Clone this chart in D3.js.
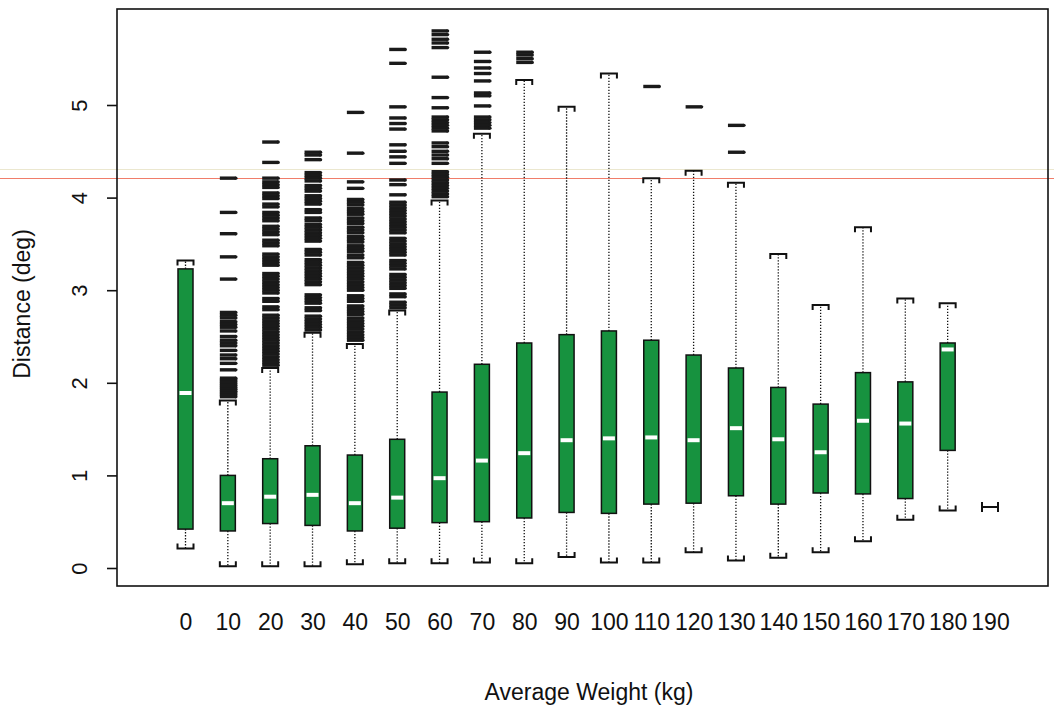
<!DOCTYPE html>
<html>
<head>
<meta charset="utf-8">
<script src="https://cdn.jsdelivr.net/npm/d3@7"></script>
<style>
  html, body { margin: 0; padding: 0; background: #fff; }
  svg { display: block; font-family: "Liberation Sans", Arial, Helvetica, sans-serif; }
  .tick text { fill: #111; }
</style>
</head>
<body>
<div id="chart"></div>
<script>
(function() {

  // -----------------------------
  // 1. DATA
  // -----------------------------
  const categories = ["0", "10", "20", "30", "40", "50", "60", "70", "80", "90",
                      "100", "110", "120", "130", "140", "150", "160", "170", "180", "190"];

  const lowerWhisker = [0.21, 0.02, 0.02, 0.02, 0.04, 0.05, 0.05, 0.06, 0.05, 0.12,
                        0.06, 0.06, 0.17, 0.08, 0.11, 0.17, 0.29, 0.52, 0.62, 0.66];
  const q1           = [0.42, 0.40, 0.48, 0.46, 0.40, 0.43, 0.49, 0.50, 0.54, 0.60,
                        0.59, 0.69, 0.70, 0.78, 0.69, 0.81, 0.80, 0.75, 1.27, 0.66];
  const median       = [1.89, 0.70, 0.77, 0.79, 0.70, 0.76, 0.97, 1.16, 1.24, 1.38,
                        1.40, 1.41, 1.38, 1.51, 1.39, 1.25, 1.59, 1.56, 2.36, 0.66];
  const q3           = [3.23, 1.00, 1.18, 1.32, 1.22, 1.39, 1.90, 2.20, 2.43, 2.52,
                        2.56, 2.46, 2.30, 2.16, 1.95, 1.77, 2.11, 2.01, 2.43, 0.66];
  const upperWhisker = [3.32, 1.81, 2.16, 2.54, 2.42, 2.78, 3.97, 4.69, 5.27, 4.98,
                        5.34, 4.21, 4.29, 4.16, 3.39, 2.84, 3.68, 2.91, 2.86, 0.66];

  const out10 = [4.21, 3.84, 3.61, 3.36, 3.12, 2.76, 2.73, 2.70, 2.66, 2.63, 2.60, 2.56,
                 2.50, 2.46, 2.43, 2.40, 2.35, 2.30, 2.26, 2.21, 2.14, 2.05, 2.03, 2.01,
                 1.99, 1.97, 1.95, 1.93, 1.91, 1.89, 1.87, 1.85];
  const out20 = [4.60, 4.38, 4.21, 4.17, 4.14, 4.11, 4.05, 4.02, 3.99, 3.93, 3.90, 3.84,
                 3.81, 3.78, 3.75, 3.69, 3.66, 3.63, 3.60, 3.54, 3.51, 3.48, 3.39, 3.36,
                 3.33, 3.30, 3.27, 3.18, 3.15, 3.12, 3.09, 3.06, 3.03, 3.00, 2.97, 2.91,
                 2.88, 2.82, 2.79, 2.73, 2.70, 2.67, 2.64, 2.61, 2.58, 2.55, 2.52, 2.49,
                 2.46, 2.43, 2.40, 2.37, 2.34, 2.31, 2.28, 2.25, 2.22, 2.19];
  const out30 = [4.49, 4.46, 4.41, 4.27, 4.24, 4.21, 4.18, 4.13, 4.10, 4.07, 4.02, 3.99,
                 3.96, 3.93, 3.87, 3.84, 3.78, 3.75, 3.71, 3.68, 3.65, 3.62, 3.59, 3.56,
                 3.53, 3.44, 3.41, 3.38, 3.33, 3.30, 3.27, 3.24, 3.21, 3.18, 3.15, 3.12,
                 3.09, 3.06, 2.95, 2.92, 2.89, 2.86, 2.81, 2.78, 2.72, 2.69, 2.66, 2.63,
                 2.60, 2.57];
  const out40 = [4.92, 4.48, 4.17, 4.10, 3.98, 3.95, 3.92, 3.88, 3.85, 3.82, 3.78, 3.75,
                 3.72, 3.68, 3.65, 3.62, 3.58, 3.55, 3.52, 3.48, 3.45, 3.42, 3.38, 3.35,
                 3.30, 3.27, 3.24, 3.21, 3.18, 3.15, 3.12, 3.09, 3.06, 3.03, 3.00, 2.94,
                 2.91, 2.88, 2.83, 2.80, 2.77, 2.74, 2.70, 2.67, 2.64, 2.61, 2.58, 2.55,
                 2.52, 2.49, 2.46];
  const out50 = [5.60, 5.45, 4.98, 4.86, 4.80, 4.74, 4.57, 4.50, 4.44, 4.37, 4.19, 4.14,
                 4.03, 3.95, 3.92, 3.89, 3.86, 3.83, 3.80, 3.77, 3.74, 3.71, 3.68, 3.65,
                 3.62, 3.56, 3.53, 3.50, 3.47, 3.44, 3.41, 3.38, 3.32, 3.29, 3.26, 3.23,
                 3.17, 3.14, 3.11, 3.08, 3.05, 3.02, 2.96, 2.93, 2.87, 2.84, 2.81];
  const out60 = [5.80, 5.76, 5.71, 5.67, 5.62, 5.30, 5.08, 4.97, 4.87, 4.84, 4.81, 4.78,
                 4.75, 4.72, 4.59, 4.55, 4.50, 4.46, 4.42, 4.37, 4.28, 4.25, 4.22, 4.19,
                 4.16, 4.13, 4.10, 4.07, 4.04, 4.01];
  const out70 = [5.57, 5.47, 5.40, 5.34, 5.26, 5.13, 5.10, 4.99, 4.87, 4.84, 4.81, 4.78, 4.75];
  const out80 = [5.57, 5.54, 5.50, 5.46];
  const out110 = [5.20];
  const out120 = [4.98];
  const out130 = [4.78, 4.49];

  const yTicks = [0, 1, 2, 3, 4, 5];

  const outliers = {"10": out10, "20": out20, "30": out30, "40": out40, "50": out50,
                    "60": out60, "70": out70, "80": out80, "110": out110, "120": out120,
                    "130": out130};

  const stats = categories.map((c, i) => ({
    cat: c, lo: lowerWhisker[i], q1: q1[i], med: median[i], q3: q3[i], hi: upperWhisker[i],
    out: outliers[c] || []
  }));

  // -----------------------------
  // 2. SVG SETUP
  // -----------------------------
  const width = 1054, height = 713;
  const frame = {left: 117, right: 1048, top: 9, bottom: 586};
  const green = "#17923f";
  const boxW = 15, stapleW = 16, dashW = 16;

  const svg = d3.select("#chart").append("svg")
      .attr("width", width)
      .attr("height", height);

  // -----------------------------
  // 3. SCALES
  // -----------------------------
  const x = d3.scalePoint().domain(categories).range([185.5, 990]);
  const y = d3.scaleLinear().domain([0, 5]).range([568, 105]);

  // scan artefacts across the page
  svg.append("line").attr("x1", 0).attr("x2", width).attr("y1", 169.5).attr("y2", 169.5)
      .attr("stroke", "#ebe7cf").attr("stroke-width", 1);
  svg.append("line").attr("x1", 0).attr("x2", width).attr("y1", 178.5).attr("y2", 178.5)
      .attr("stroke", "#f07d6a").attr("stroke-width", 1.2);

  // -----------------------------
  // 4. AXES
  // -----------------------------
  const yAxis = svg.append("g")
      .attr("transform", `translate(${frame.left},0)`)
      .call(d3.axisLeft(y).tickValues(yTicks).tickSize(10).tickFormat(d3.format("d")));
  yAxis.select(".domain").remove();
  yAxis.selectAll(".tick line").attr("stroke", "#111").attr("stroke-width", 1.6);
  yAxis.selectAll(".tick text")
      .attr("x", 0).attr("y", -30).attr("dy", 0)
      .attr("text-anchor", "middle")
      .attr("transform", "rotate(-90)")
      .style("font-size", "22px");

  const xAxis = svg.append("g")
      .attr("transform", `translate(0,${frame.bottom})`)
      .call(d3.axisBottom(x).tickSize(0).tickPadding(28));
  xAxis.select(".domain").remove();
  xAxis.selectAll(".tick text").style("font-size", "23px");

  // frame
  svg.append("rect")
      .attr("x", frame.left).attr("y", frame.top)
      .attr("width", frame.right - frame.left).attr("height", frame.bottom - frame.top)
      .attr("fill", "none").attr("stroke", "#111").attr("stroke-width", 1.6);

  // titles
  svg.append("text")
      .attr("x", 589).attr("y", 700)
      .attr("text-anchor", "middle")
      .style("font-size", "23px").attr("fill", "#111")
      .text("Average Weight (kg)");

  svg.append("text")
      .attr("transform", "translate(30,304) rotate(-90)")
      .attr("text-anchor", "middle")
      .style("font-size", "23px").attr("fill", "#111")
      .text("Distance (deg)");

  // -----------------------------
  // 5. BOXES
  // -----------------------------
  const g = svg.append("g");
  const box = g.selectAll(".box")
      .data(stats)
      .enter().append("g")
      .attr("class", "box")
      .attr("transform", d => `translate(${x(d.cat)},0)`);

  // dotted whiskers
  box.append("line")
      .attr("y1", d => y(d.q3)).attr("y2", d => y(d.hi))
      .attr("stroke", "#111").attr("stroke-width", 1.3).attr("stroke-dasharray", "1.3,1.7");
  box.append("line")
      .attr("y1", d => y(d.q1)).attr("y2", d => y(d.lo))
      .attr("stroke", "#111").attr("stroke-width", 1.3).attr("stroke-dasharray", "1.3,1.7");

  // staples
  const sw = stapleW / 2;
  box.append("path")
      .attr("d", d => `M${-sw},${y(d.hi) + 5}V${y(d.hi)}H${sw}V${y(d.hi) + 5}`)
      .attr("fill", "none").attr("stroke", "#111").attr("stroke-width", 2);
  box.append("path")
      .attr("d", d => `M${-sw},${y(d.lo) - 5}V${y(d.lo)}H${sw}V${y(d.lo) - 5}`)
      .attr("fill", "none").attr("stroke", "#111").attr("stroke-width", 2);

  // box body + median (skip the single-value group)
  const real = box.filter(d => d.q3 > d.q1);
  real.append("rect")
      .attr("x", -boxW / 2)
      .attr("y", d => y(d.q3))
      .attr("width", boxW)
      .attr("height", d => y(d.q1) - y(d.q3))
      .attr("fill", green)
      .attr("stroke", "#111").attr("stroke-width", 1.5);
  real.append("line")
      .attr("x1", -boxW / 2 + 1.5).attr("x2", boxW / 2 - 1.5)
      .attr("y1", d => y(d.med)).attr("y2", d => y(d.med))
      .attr("stroke", "#fff").attr("stroke-width", 4);

  // outliers drawn as short dashes
  const dw = dashW / 2;
  box.selectAll(".out")
      .data(d => d.out)
      .enter().append("line")
      .attr("class", "out")
      .attr("x1", -dw).attr("x2", dw)
      .attr("y1", v => y(v)).attr("y2", v => y(v))
      .attr("stroke", "#1a1a1a").attr("stroke-width", 3.4);
  box.selectAll(".outdot")
      .data(d => d.out)
      .enter().append("circle")
      .attr("class", "outdot")
      .attr("cx", dw).attr("cy", v => y(v)).attr("r", 1.7)
      .attr("fill", "#1a1a1a");

})();
</script>
</body>
</html>
